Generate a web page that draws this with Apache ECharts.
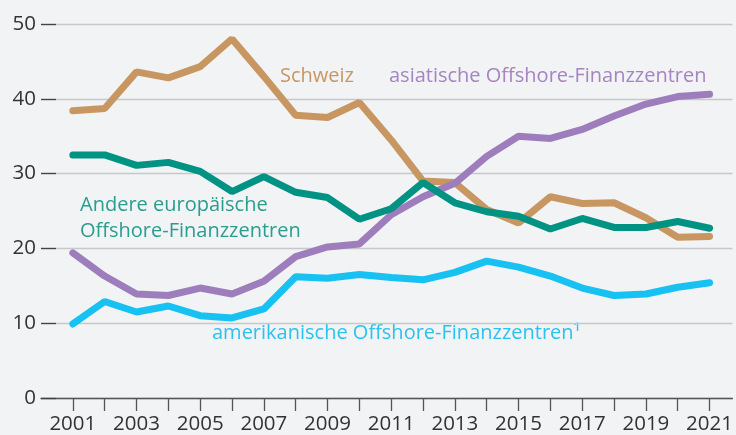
<!DOCTYPE html>
<html>
<head>
    <meta charset="utf-8">
    <script src="https://cdn.jsdelivr.net/npm/echarts@6/dist/echarts.min.js"></script>
    <style>
        html, body { margin: 0; padding: 0; background: #f1f3f5; }
    </style>
</head>
<body>
    <div id="main" style="width: 736px; height: 435px"></div>
    <script type="text/javascript">
        var years = [2001, 2002, 2003, 2004, 2005, 2006, 2007, 2008, 2009, 2010, 2011,
                     2012, 2013, 2014, 2015, 2016, 2017, 2018, 2019, 2020, 2021];
        var labelYears = [2001, 2003, 2005, 2007, 2009, 2011, 2013, 2015, 2017, 2019, 2021];

        var schweiz = [38.4, 38.7, 43.6, 42.8, 44.3, 48.0, 43.0, 37.8, 37.5, 39.5, 34.5,
                       29.0, 28.8, 25.2, 23.4, 26.9, 26.0, 26.1, 24.1, 21.5, 21.6];
        var asien = [19.4, 16.3, 13.9, 13.7, 14.7, 13.9, 15.6, 18.9, 20.2, 20.6, 24.5,
                     26.9, 28.7, 32.3, 35.0, 34.7, 35.9, 37.7, 39.3, 40.3, 40.6];
        var europa = [32.5, 32.5, 31.1, 31.5, 30.3, 27.6, 29.6, 27.5, 26.8, 23.9, 25.3,
                      28.8, 26.1, 24.9, 24.3, 22.6, 24.0, 22.8, 22.8, 23.6, 22.7];
        var amerika = [9.9, 12.9, 11.5, 12.3, 11.0, 10.7, 11.9, 16.2, 16.0, 16.5, 16.1,
                       15.8, 16.8, 18.3, 17.5, 16.3, 14.7, 13.7, 13.9, 14.8, 15.4];

        var font = '"Open Sans", "Noto Sans", sans-serif';

        function pairs(vals) {
            var out = [];
            for (var i = 0; i < years.length; i++) {
                out.push([years[i], vals[i]]);
            }
            return out;
        }

        function line(name, vals, color) {
            return {
                name: name,
                type: 'line',
                data: pairs(vals),
                showSymbol: false,
                symbol: 'none',
                silent: true,
                lineStyle: { color: color, width: 7, cap: 'round' }
            };
        }

        var myChart = echarts.init(document.getElementById('main'));
        var option = {
            backgroundColor: '#f1f3f5',
            animation: false,
            grid: { left: 41, right: 0, top: 24, bottom: 37 },
            xAxis: {
                type: 'value',
                min: 2000,
                max: 2021.72,
                axisLine: { show: true, lineStyle: { color: '#555', width: 1.3 } },
                axisTick: { show: true, length: 13, customValues: years, lineStyle: { color: '#555', width: 1.3 } },
                axisLabel: {
                    customValues: labelYears,
                    margin: 16,
                    color: '#333',
                    fontSize: 20.5,
                    fontFamily: font,
                    formatter: function (v) { return String(v); }
                },
                splitLine: { show: false }
            },
            yAxis: {
                type: 'value',
                min: 0,
                max: 50,
                interval: 10,
                axisLine: { show: false },
                axisTick: { show: true, inside: true, length: 15, lineStyle: { color: '#444', width: 1.3 } },
                axisLabel: { margin: 5, color: '#333', fontSize: 20.5, fontFamily: font },
                splitLine: { show: true, lineStyle: { color: '#c8c8cc', width: 1.3 } }
            },
            series: [
                line('Schweiz', schweiz, '#c89661'),
                line('asiatische Offshore-Finanzzentren', asien, '#9e7dbc'),
                line('amerikanische Offshore-Finanzzentren', amerika, '#17c1f1'),
                line('Andere europäische Offshore-Finanzzentren', europa, '#009283')
            ],
            graphic: [
                { type: 'text', left: 280, top: 66, style: { text: 'Schweiz', fill: '#c89661', fontSize: 20, fontFamily: font } },
                { type: 'text', left: 389, top: 66, style: { text: 'asiatische Offshore-Finanzzentren', fill: '#a584c2', fontSize: 20, fontFamily: font } },
                { type: 'text', left: 80, top: 192, style: { text: 'Andere europäische\nOffshore-Finanzzentren', fill: '#2a9d8f', fontSize: 20, lineHeight: 26, fontFamily: font } },
                { type: 'text', left: 212, top: 323, style: { text: 'amerikanische Offshore-Finanzzentren¹', fill: '#2bc2ef', fontSize: 20, fontFamily: font } }
            ]
        };
        myChart.setOption(option);
    </script>
</body>
</html>
